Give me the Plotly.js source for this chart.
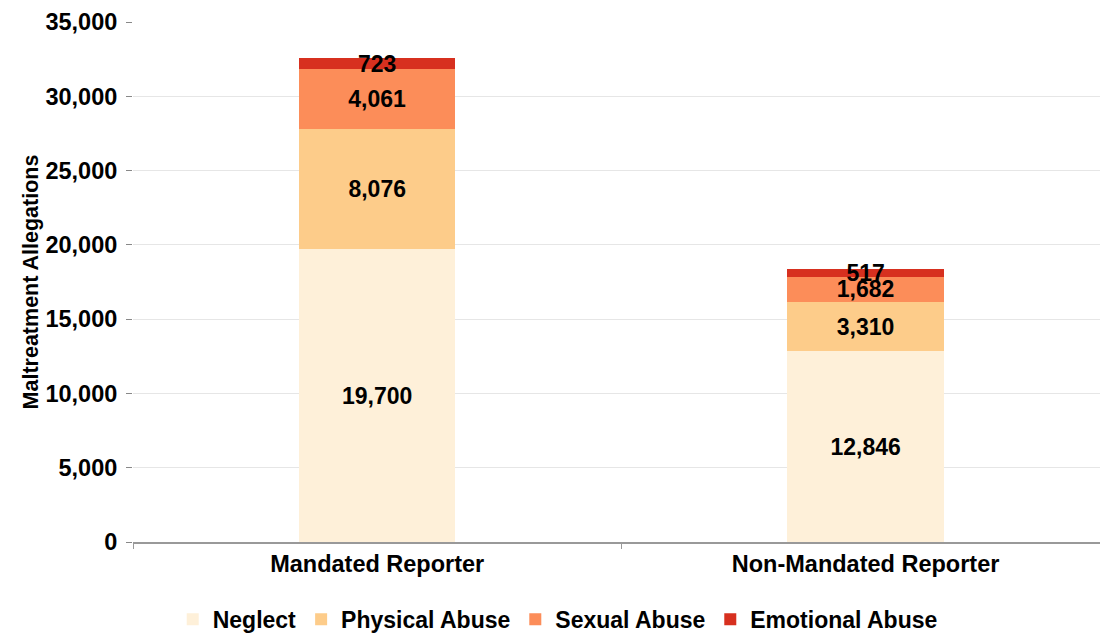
<!DOCTYPE html>
<html>
<head>
<meta charset="utf-8">
<script src="https://cdn.plot.ly/plotly-3.0.1.min.js"></script>
<style>html,body{margin:0;padding:0;background:#fff;}#chart{width:1100px;height:633px;}</style>
</head>
<body>
<div id="chart"></div>
<script>
const categories = ["Mandated Reporter", "Non-Mandated Reporter"];
const neglect = [19700, 12846];
const physicalAbuse = [8076, 3310];
const sexualAbuse = [4061, 1682];
const emotionalAbuse = [723, 517];
const seriesNames = ["Neglect", "Physical Abuse", "Sexual Abuse", "Emotional Abuse"];
const seriesColors = ["#fef0d9", "#fdcc8a", "#fc8d59", "#d7301f"];
const seriesValues = [neglect, physicalAbuse, sexualAbuse, emotionalAbuse];

const font = "Liberation Sans, Arial, sans-serif";
const traces = seriesValues.map((vals, i) => ({
  type: "bar",
  name: seriesNames[i],
  x: categories,
  y: vals,
  marker: {color: seriesColors[i], line: {width: 0}},
  width: 0.32,
  text: vals.map(v => v.toLocaleString("en-US")),
  textposition: "inside",
  insidetextanchor: "middle",
  constraintext: "none",
  textfont: {family: font, size: 23, color: "#000", weight: "bold"},
  hoverinfo: "none"
}));

const layout = {
  width: 1100, height: 633,
  barmode: "stack",
  margin: {l: 133, r: 0, t: 22, b: 91, autoexpand: false},
  paper_bgcolor: "#fff", plot_bgcolor: "#fff",
  font: {family: font, color: "#000"},
  xaxis: {
    range: [-0.5, 1.48],
    tickson: "boundaries",
    ticks: "outside", ticklen: 5, tickcolor: "#999",
    showline: true, linecolor: "#999", linewidth: 2,
    showgrid: false,
    automargin: false,
    tickfont: {family: font, size: 23.5, weight: "bold", color: "#000"}
  },
  yaxis: {
    range: [0, 35000],
    dtick: 5000,
    tickformat: ",d",
    ticks: "outside", ticklen: 6, tickcolor: "#888",
    showgrid: true, gridcolor: "#e6e6e6", gridwidth: 1,
    zeroline: false,
    automargin: false,
    ticklabelstandoff: 4,
    tickfont: {family: font, size: 23.5, weight: "bold", color: "#000"},
    title: {text: "Maltreatment Allegations", font: {family: font, size: 21.5, weight: "bold", color: "#000"}, standoff: 0}
  },
  legend: {
    orientation: "h",
    itemwidth: 30,
    xref: "container", x: 0.507, xanchor: "center",
    yref: "container", y: 0.0555, yanchor: "top",
    font: {family: font, size: 23, weight: "bold", color: "#000"},
    traceorder: "normal"
  },
  showlegend: true
};

Plotly.newPlot("chart", traces, layout, {displayModeBar: false, staticPlot: true});
</script>
</body>
</html>
